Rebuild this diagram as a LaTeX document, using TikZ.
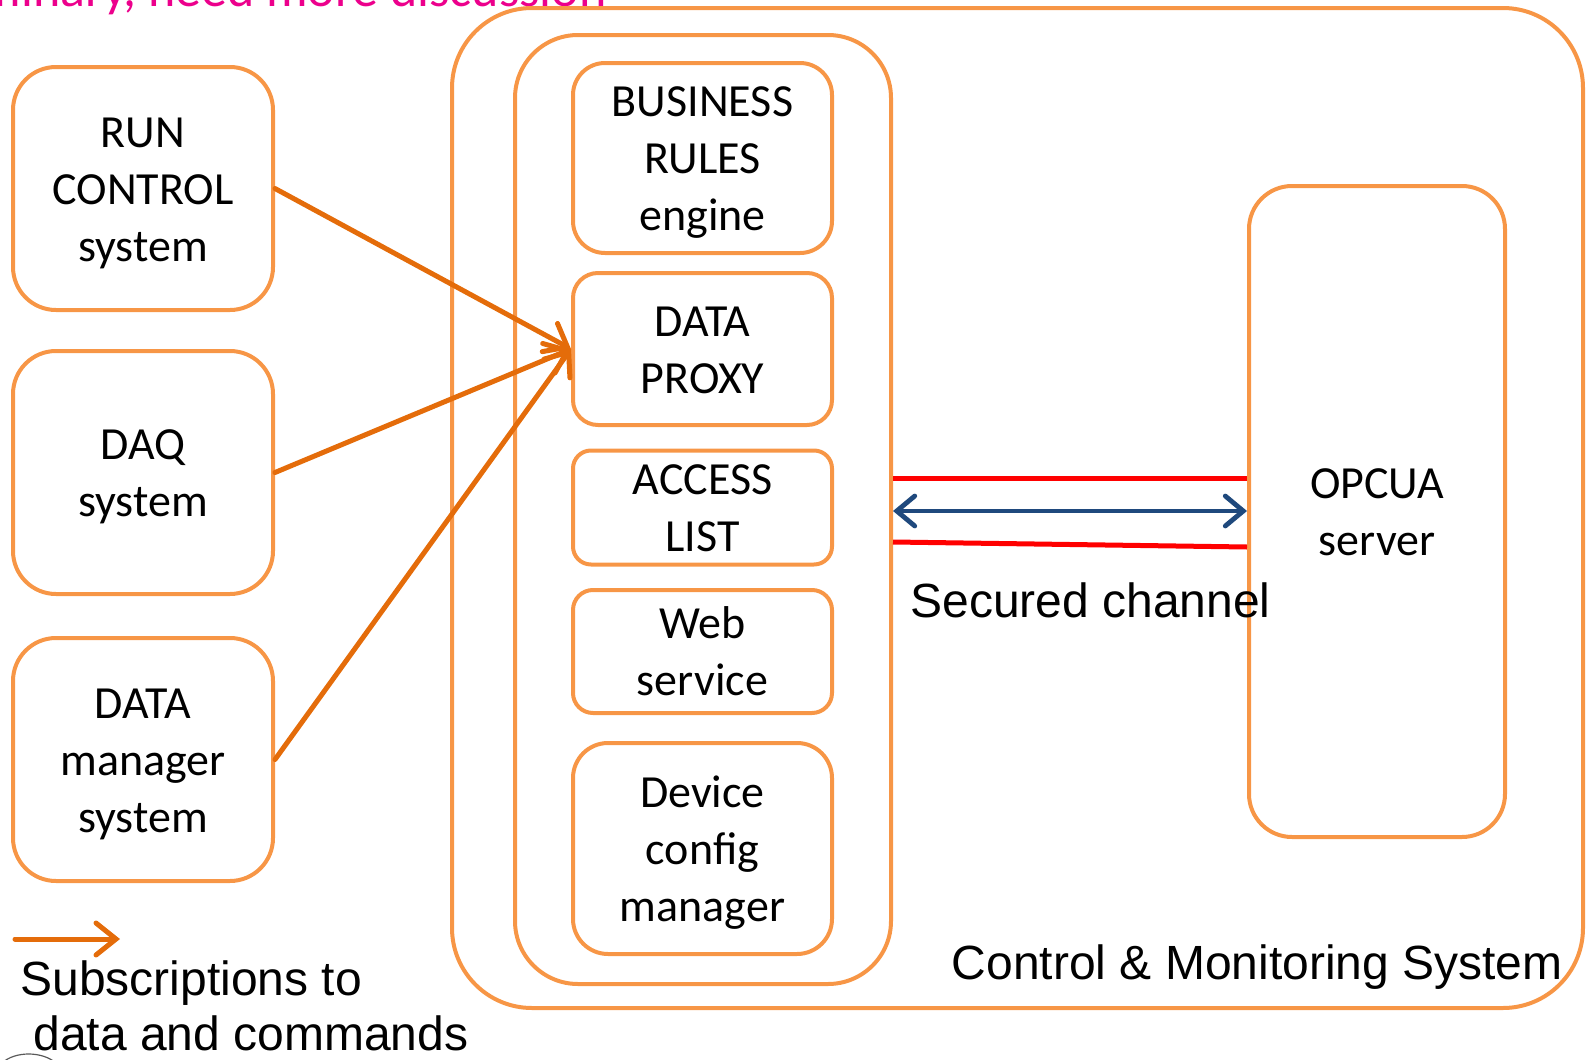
\documentclass[tikz,border=0pt]{standalone}
\usepackage{fontspec}
\setmainfont{Carlito}
\newfontfamily\arialfont{Liberation Sans}
\usetikzlibrary{arrows.meta}
\definecolor{boxorange}{RGB}{247,150,70}
\definecolor{arrorange}{RGB}{228,108,10}
\definecolor{chanred}{RGB}{255,0,0}
\definecolor{chanblue}{RGB}{31,73,125}
\definecolor{notepink}{RGB}{236,0,140}
% uniform line box for the card texts
\newcommand\ls{\rule[-6.5pt]{0pt}{28.5pt}}
\begin{document}
\begin{tikzpicture}[x=0.5pt,y=-0.5pt,
  card/.style={draw=boxorange, line width=2pt, inner sep=0pt, align=center,
    font=\fontsize{23}{28.5}\selectfont},
  sidecard/.style={card, minimum width=130pt, minimum height=121.5pt, rounded corners=21.5pt},
  stackcard/.style={card, minimum width=129.5pt},
  subarrow/.style={draw=arrorange, line width=2.5pt, line cap=round,
    -{Straight Barb[length=10pt,width=16pt,line cap=round]}},
  redline/.style={draw=chanred, line width=2.5pt},
  bluearrow/.style={draw=chanblue, line width=2.4pt, line cap=round,
    {Straight Barb[length=9pt,width=15pt,line cap=round]}-{Straight Barb[length=9pt,width=15pt,line cap=round]}},
  label/.style={font=\arialfont\fontsize{24}{27.5}\selectfont, inner sep=0pt}
]
\useasboundingbox (0,0) rectangle (1586,1060);
\clip (0,0) rectangle (1586,1060);

% note at the top edge
\node[font=\fontsize{26}{30}\selectfont, text=notepink, anchor=base east, inner sep=0pt]
  (note) at (607,6) {Preliminary, need more discussion};

% containers
\node[card, minimum width=565.5pt, minimum height=500pt, rounded corners=40pt] (cms) at (1017.5,508) {};
\node[card, minimum width=188pt, minimum height=474.5pt, rounded corners=31.5pt] (col) at (703,509.5) {};

% external systems
\node[sidecard] (run) at (143,188.5) {\ls RUN\\\ls CONTROL\\\ls system};
\node[sidecard] (daq) at (143,472.5) {\ls DAQ\\\ls system};
\node[sidecard] (dm)  at (143,759.5) {\ls DATA\\\ls manager\\\ls system};

% services stack
\node[stackcard, minimum height=95pt,    rounded corners=16pt]   (bre) at (702.5,158)   {\ls BUSINESS\\\ls RULES\\\ls engine};
\node[stackcard, minimum height=76pt,    rounded corners=12.5pt] (dp)  at (702.5,349)   {\ls DATA\\\ls PROXY};
\node[stackcard, minimum height=53.5pt,  rounded corners=9pt]    (al)  at (702.5,507.5) {\ls ACCESS\\\ls LIST};
\node[stackcard, minimum height=61.5pt,  rounded corners=10pt]   (ws)  at (702.5,651.5) {\ls Web\\\ls service};
\node[stackcard, minimum height=105.5pt, rounded corners=17.5pt] (dcm) at (702.5,848.5) {\ls Device\\\ls config\\\ls manager};

% server
\node[card, minimum width=128pt, minimum height=325.5pt, rounded corners=21.5pt] (opc) at (1377,511.5) {\ls OPCUA\\\ls server};

% subscriptions
\draw[subarrow] (run.east) -- (dp.west);
\draw[subarrow] (daq.east) -- (dp.west);
\draw[subarrow] (dm.east) -- (dp.west);

% secured channel
\coordinate (rtop) at (0,478);
\coordinate (mid) at (0,511);
\coordinate (rbotl) at (0,542);
\coordinate (rbotr) at (0,547);
\draw[redline] (col.east |- rtop) -- (opc.west |- rtop);
\draw[redline] (col.east |- rbotl) -- (opc.west |- rbotr);
\draw[bluearrow] (col.east |- mid) -- (opc.west |- mid);
\node[label, anchor=base west] (chan) at (910,617) {Secured channel};

\node[label, anchor=base east] (cmslabel) at (1563,979) {Control \& Monitoring System};

% legend
\coordinate (lega) at (15,939);
\coordinate (legb) at (120,939);
\draw[subarrow] (lega) -- (legb);
\node[label, anchor=base west] (leg1) at (20,995) {Subscriptions to};
\node[label, anchor=base west] (leg2) at (33,1050) {data and commands};

% partial circle at the lower edge
\draw[gray!70!black, line width=0.6pt] (2,1063) .. controls (15,1051) and (42,1051) .. (56,1063);
\end{tikzpicture}
\end{document}
